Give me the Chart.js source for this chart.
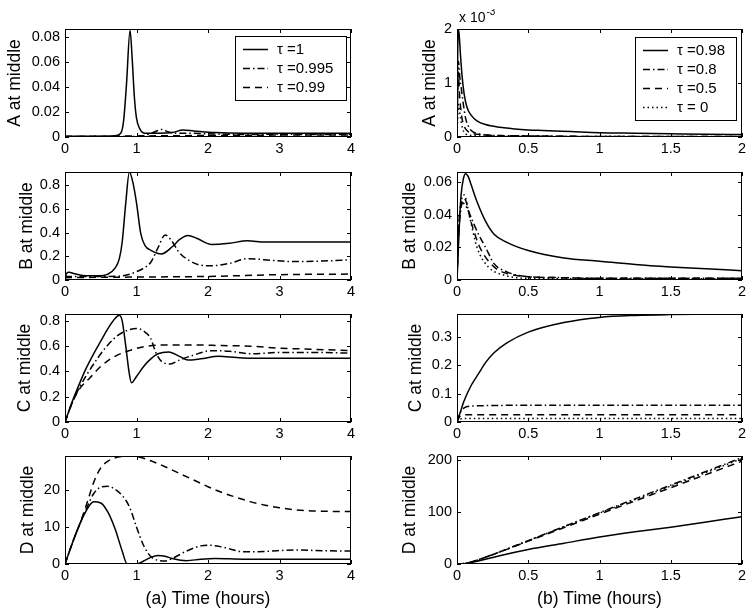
<!DOCTYPE html>
<html lang="en">
<head>
<meta charset="UTF-8">
<title>Concentrations at middle</title>
<script src="https://cdn.jsdelivr.net/npm/chart.js"></script>
<style>
  body { margin: 0; background: #fff; }
  #wrap { position: relative; width: 754px; height: 614px; overflow: hidden; }
  #wrap canvas { position: absolute; }
</style>
</head>
<body>
<div id="wrap"></div>
<script>
// ---- data ----
// legend labels
const labelsA = ['τ =1', 'τ =0.995', 'τ =0.99'];
const labelsB = ['τ =0.98', 'τ =0.8', 'τ =0.5', 'τ = 0'];

// tick labels
const xTicksA = [0, 1, 2, 3, 4];
const xTicksB = [0, 0.5, 1, 1.5, 2];
const yTicksAA = [0, 0.02, 0.04, 0.06, 0.08];
const yTicksAB = [0, 0.2, 0.4, 0.6, 0.8];
const yTicksAC = [0, 0.2, 0.4, 0.6, 0.8];
const yTicksAD = [0, 10, 20];
const yTicksBA = [0, 1, 2];
const yTicksBB = [0, 0.02, 0.04, 0.06];
const yTicksBC = [0, 0.1, 0.2, 0.3];
const yTicksBD = [0, 100, 200];

// (a) column, A at middle
const aA1t = [0, 0.5, 0.7, 0.78, 0.82, 0.86, 0.91, 0.94, 0.97, 1.0, 1.05, 1.12, 1.3, 1.5, 1.65, 1.8, 2.1, 2.5, 3, 3.5, 4];
const aA1y = [0.0005, 0.0005, 0.001, 0.003, 0.013, 0.042, 0.085, 0.062, 0.032, 0.015, 0.006, 0.003, 0.003, 0.0035, 0.0055, 0.0048, 0.0035, 0.003, 0.003, 0.003, 0.003];
const aA2t = [0, 0.9, 1.1, 1.25, 1.35, 1.45, 1.55, 1.7, 2, 2.5, 3, 3.5, 4];
const aA2y = [0.0003, 0.0004, 0.001, 0.004, 0.006, 0.004, 0.003, 0.003, 0.0025, 0.002, 0.0022, 0.002, 0.002];
const aA3t = [0, 1, 2, 3, 4];
const aA3y = [0.0003, 0.0008, 0.0012, 0.0015, 0.0015];

// (a) column, B at middle
const aB1t = [0, 0.02, 0.06, 0.12, 0.25, 0.45, 0.6, 0.7, 0.76, 0.8, 0.85, 0.9, 0.95, 1.0, 1.06, 1.12, 1.2, 1.35, 1.5, 1.6, 1.72, 1.85, 2.05, 2.3, 2.55, 2.8, 3.2, 4];
const aB1y = [0.01, 0.055, 0.065, 0.055, 0.038, 0.035, 0.05, 0.1, 0.18, 0.32, 0.65, 0.91, 0.82, 0.65, 0.39, 0.29, 0.25, 0.22, 0.28, 0.34, 0.376, 0.35, 0.3, 0.31, 0.33, 0.32, 0.32, 0.32];
const aB2t = [0, 0.3, 0.6, 0.85, 1.0, 1.1, 1.2, 1.3, 1.4, 1.48, 1.6, 1.75, 1.9, 2.05, 2.3, 2.55, 2.9, 3.2, 3.6, 4];
const aB2y = [0.03, 0.03, 0.03, 0.04, 0.07, 0.1, 0.15, 0.27, 0.38, 0.34, 0.23, 0.16, 0.125, 0.12, 0.14, 0.18, 0.165, 0.155, 0.16, 0.17];
const aB3t = [0, 1, 2, 3, 4];
const aB3y = [0.02, 0.025, 0.03, 0.045, 0.05];

// (a) column, C at middle
const aC1t = [0, 0.1, 0.2, 0.3, 0.4, 0.5, 0.6, 0.7, 0.76, 0.8, 0.85, 0.9, 0.93, 1.0, 1.1, 1.2, 1.3, 1.45, 1.6, 1.72, 1.9, 2.15, 2.4, 2.6, 3, 3.5, 4];
const aC1y = [0, 0.16, 0.3, 0.43, 0.54, 0.64, 0.74, 0.82, 0.845, 0.8, 0.6, 0.38, 0.31, 0.36, 0.44, 0.5, 0.54, 0.555, 0.52, 0.49, 0.5, 0.52, 0.51, 0.505, 0.505, 0.505, 0.505];
const aC2t = [0, 0.1, 0.2, 0.3, 0.45, 0.6, 0.75, 0.9, 1.0, 1.1, 1.2, 1.27, 1.35, 1.47, 1.6, 1.8, 2.05, 2.3, 2.6, 3.0, 3.5, 4];
const aC2y = [0, 0.15, 0.27, 0.37, 0.5, 0.61, 0.69, 0.73, 0.74, 0.72, 0.66, 0.55, 0.48, 0.46, 0.49, 0.53, 0.565, 0.56, 0.54, 0.55, 0.55, 0.545];
const aC3t = [0, 0.1, 0.2, 0.35, 0.5, 0.7, 0.9, 1.1, 1.4, 1.8, 2.2, 2.6, 3.0, 3.5, 4];
const aC3y = [0, 0.15, 0.26, 0.35, 0.44, 0.52, 0.565, 0.595, 0.61, 0.61, 0.605, 0.6, 0.585, 0.575, 0.565];

// (a) column, D at middle
const aD1t = [0, 0.1, 0.2, 0.3, 0.4, 0.5, 0.6, 0.7, 0.8, 0.87, 0.95, 1.0, 1.1, 1.2, 1.3, 1.4, 1.5, 1.7, 1.9, 2.1, 2.5, 3, 4];
const aD1y = [0, 5.5, 10.5, 14.5, 16.8, 16.5, 14, 9.5, 3.5, 0, 0, 0, 0.8, 1.8, 2.3, 2.1, 1.5, 0.9, 1.3, 1.5, 1.3, 1.3, 1.3];
const aD2t = [0, 0.1, 0.2, 0.3, 0.4, 0.5, 0.6, 0.7, 0.8, 0.9, 1.0, 1.1, 1.2, 1.3, 1.4, 1.5, 1.7, 1.9, 2.0, 2.2, 2.5, 2.8, 3.2, 3.6, 4];
const aD2y = [0, 5.5, 10.5, 15, 19, 20.8, 21, 20.2, 18.5, 15.5, 10, 5, 2, 1, 0.8, 1.5, 3.5, 4.9, 5.1, 4.6, 3.3, 3.4, 3.8, 3.6, 3.5];
const aD3t = [0, 0.1, 0.2, 0.3, 0.4, 0.5, 0.6, 0.7, 0.8, 0.9, 1.0, 1.1, 1.2, 1.4, 1.6, 1.8, 2.0, 2.2, 2.4, 2.6, 2.8, 3.0, 3.2, 3.5, 4];
const aD3y = [0, 5.5, 10.5, 16, 22, 26, 27.8, 28.7, 29.1, 29.2, 29, 28.6, 27.9, 26.3, 24.5, 22.7, 20.9, 19.3, 18, 16.8, 15.9, 15.2, 14.7, 14.3, 14.2];

// (b) column, A at middle (units of 1e-3)
const bA1t = [0, 0.008, 0.015, 0.025, 0.035, 0.05, 0.07, 0.1, 0.14, 0.2, 0.3, 0.45, 0.6, 0.8, 1, 1.25, 1.5, 1.75, 2];
const bA1y = [0, 2.0, 1.9, 1.5, 1.15, 0.8, 0.55, 0.4, 0.3, 0.23, 0.18, 0.14, 0.12, 0.1, 0.08, 0.07, 0.06, 0.05, 0.045];
const bA2t = [0, 0.01, 0.02, 0.03, 0.045, 0.06, 0.08, 0.1, 0.15, 0.25, 0.5, 1, 2];
const bA2y = [0, 1.4, 1.1, 0.9, 0.6, 0.35, 0.2, 0.12, 0.06, 0.03, 0.02, 0.01, 0.01];
const bA3t = [0, 0.008, 0.02, 0.035, 0.05, 0.07, 0.1, 0.15, 0.25, 0.5, 1, 2];
const bA3y = [0, 1.2, 0.7, 0.35, 0.2, 0.12, 0.07, 0.05, 0.03, 0.02, 0.01, 0.01];
const bA4t = [0, 0.01, 0.025, 0.04, 0.06, 0.1, 0.2, 0.5, 2];
const bA4y = [0, 0.6, 0.35, 0.15, 0.06, 0.03, 0.015, 0.01, 0.005];

// (b) column, B at middle
const bB1t = [0, 0.01, 0.02, 0.03, 0.045, 0.06, 0.08, 0.1, 0.14, 0.2, 0.26, 0.35, 0.5, 0.75, 1, 1.25, 1.5, 1.75, 2];
const bB1y = [0, 0.02, 0.04, 0.053, 0.062, 0.065, 0.063, 0.058, 0.048, 0.036, 0.028, 0.023, 0.018, 0.0135, 0.0115, 0.0095, 0.008, 0.0068, 0.0057];
const bB2t = [0, 0.01, 0.025, 0.04, 0.07, 0.1, 0.15, 0.2, 0.26, 0.35, 0.5, 0.7, 1, 1.5, 2];
const bB2y = [0, 0.025, 0.042, 0.047, 0.044, 0.038, 0.028, 0.02, 0.01, 0.005, 0.002, 0.0015, 0.001, 0.001, 0.001];
const bB3t = [0, 0.01, 0.03, 0.05, 0.1, 0.16, 0.26, 0.35, 0.5, 0.7, 1, 1.5, 2];
const bB3y = [0, 0.03, 0.046, 0.05, 0.035, 0.02, 0.008, 0.004, 0.002, 0.0015, 0.001, 0.001, 0.001];
const bB4t = [0, 0.01, 0.03, 0.05, 0.09, 0.14, 0.22, 0.33, 0.5, 1, 2];
const bB4y = [0, 0.03, 0.048, 0.052, 0.038, 0.02, 0.008, 0.003, 0.001, 0.0008, 0.0008];

// (b) column, C at middle
const bC1t = [0, 0.01, 0.02, 0.05, 0.1, 0.15, 0.2, 0.26, 0.35, 0.5, 0.75, 1, 1.25, 1.5, 2];
const bC1y = [0, 0.015, 0.03, 0.075, 0.13, 0.17, 0.21, 0.245, 0.28, 0.318, 0.352, 0.37, 0.377, 0.38, 0.383];
const bC2t = [0, 0.02, 0.05, 0.1, 0.2, 0.5, 1, 2];
const bC2y = [0, 0.03, 0.05, 0.056, 0.058, 0.059, 0.059, 0.059];
const bC3t = [0, 0.02, 0.05, 0.1, 0.5, 2];
const bC3y = [0, 0.02, 0.025, 0.026, 0.026, 0.026];
const bC4t = [0, 0.02, 0.05, 0.5, 2];
const bC4y = [0, 0.01, 0.012, 0.012, 0.012];

// (b) column, D at middle
const bD1t = [0, 0.05, 0.1, 0.2, 0.3, 0.5, 0.75, 1, 1.25, 1.5, 1.75, 2];
const bD1y = [0, 0.5, 3, 9, 16, 28, 40, 52, 62, 71, 81, 91];
const bDt = [0, 0.05, 0.1, 0.2, 0.5, 1, 1.5, 2];
const bD2y = [0, 1, 4, 13, 45, 99, 152, 205];
const bD3y = [0, 1, 4, 13, 44, 96, 147, 198];
const bD4y = [0, 1, 4, 13, 45, 98, 150, 203];

// ---- styles / layout ----
const dashes = { solid: [], dashdot: [7, 3, 1.5, 3], dashed: [7, 5], dotted: [1.5, 3] };
const stylesA = ['solid', 'dashdot', 'dashed'];
const stylesB = ['solid', 'dashdot', 'dashed', 'dotted'];
const rowTops = [29, 172, 314, 456];
const plotH = 108;
const tickFont = { family: 'Liberation Sans, Arial, sans-serif', size: 14.5 };
const titleFont = { family: 'Liberation Sans, Arial, sans-serif', size: 17.5 };

function series(ts, ys, labels, styles) {
  return ys.map((y, i) => ({ t: ts[i], y: y, label: labels[i], style: styles[i] }));
}

// titleX = where the rotated y label is centred (MATLAB shifts it with tick width)
const panels = [
  { col: 0, row: 0, yTitle: 'A at middle', titleX: 15, yMax: 0.086, yTicks: yTicksAA, xMax: 4, xTicks: xTicksA,
    series: series([aA1t, aA2t, aA3t], [aA1y, aA2y, aA3y], labelsA, stylesA),
    legend: { w: 111, inset: 5, top: 7 } },
  { col: 0, row: 1, yTitle: 'B at middle', titleX: 27, yMax: 0.91, yTicks: yTicksAB, xMax: 4, xTicks: xTicksA,
    series: series([aB1t, aB2t, aB3t], [aB1y, aB2y, aB3y], labelsA, stylesA) },
  { col: 0, row: 2, yTitle: 'C at middle', titleX: 25, yMax: 0.855, yTicks: yTicksAC, xMax: 4, xTicks: xTicksA,
    series: series([aC1t, aC2t, aC3t], [aC1y, aC2y, aC3y], labelsA, stylesA) },
  { col: 0, row: 3, yTitle: 'D at middle', titleX: 28, yMax: 29.2, yTicks: yTicksAD, xMax: 4, xTicks: xTicksA,
    series: series([aD1t, aD2t, aD3t], [aD1y, aD2y, aD3y], labelsA, stylesA),
    xTitle: '(a) Time (hours)' },
  { col: 1, row: 0, yTitle: 'A at middle', titleX: 53, yMax: 2, yTicks: yTicksBA, xMax: 2, xTicks: xTicksB,
    series: series([bA1t, bA2t, bA3t, bA4t], [bA1y, bA2y, bA3y, bA4y], labelsB, stylesB),
    legend: { w: 101, inset: 6, top: 8 }, exponent: true },
  { col: 1, row: 1, yTitle: 'B at middle', titleX: 33, yMax: 0.066, yTicks: yTicksBB, xMax: 2, xTicks: xTicksB,
    series: series([bB1t, bB2t, bB3t, bB4t], [bB1y, bB2y, bB3y, bB4y], labelsB, stylesB) },
  { col: 1, row: 2, yTitle: 'C at middle', titleX: 39, yMax: 0.382, yTicks: yTicksBC, xMax: 2, xTicks: xTicksB,
    series: series([bC1t, bC2t, bC3t, bC4t], [bC1y, bC2y, bC3y, bC4y], labelsB, stylesB) },
  { col: 1, row: 3, yTitle: 'D at middle', titleX: 33, yMax: 208, yTicks: yTicksBD, xMax: 2, xTicks: xTicksB,
    series: series([bD1t, bDt, bDt, bDt], [bD1y, bD2y, bD3y, bD4y], labelsB, stylesB),
    xTitle: '(b) Time (hours)' }
];

const fmt = v => String(parseFloat(Number(v).toFixed(6)));

// frame with inward ticks, legend box and exponent label (MATLAB look)
function boxPlugin(p) {
  return {
    id: 'box',
    afterDatasetsDraw(chart) {
      const { ctx, chartArea: a } = chart;
      const x = chart.scales.x, y = chart.scales.y;
      ctx.save();
      ctx.strokeStyle = '#000';
      ctx.lineWidth = 1;
      ctx.setLineDash([]);
      ctx.strokeRect(a.left + 0.5, a.top + 0.5, a.right - a.left - 1, a.bottom - a.top - 1);
      ctx.beginPath();
      x.ticks.forEach(t => {
        const px = Math.round(x.getPixelForValue(t.value)) + 0.5;
        ctx.moveTo(px, a.bottom); ctx.lineTo(px, a.bottom - 4);
        ctx.moveTo(px, a.top); ctx.lineTo(px, a.top + 4);
      });
      y.ticks.forEach(t => {
        const py = Math.round(y.getPixelForValue(t.value)) + 0.5;
        ctx.moveTo(a.left, py); ctx.lineTo(a.left + 4, py);
        ctx.moveTo(a.right, py); ctx.lineTo(a.right - 4, py);
      });
      ctx.stroke();

      if (p.legend) {
        const ds = chart.data.datasets;
        const bx = a.right - p.legend.inset - p.legend.w;
        const by = a.top + p.legend.top;
        const bh = 25 + (ds.length - 1) * 19.3;
        ctx.fillStyle = '#fff';
        ctx.fillRect(bx, by, p.legend.w, bh);
        ctx.strokeRect(Math.round(bx) + 0.5, Math.round(by) + 0.5, p.legend.w, Math.round(bh));
        ctx.font = '15px Liberation Sans, Arial, sans-serif';
        ctx.fillStyle = '#000';
        ctx.textBaseline = 'middle';
        ds.forEach((d, i) => {
          const ry = Math.round(by + 12.5 + i * 19.3) + 0.5;
          ctx.beginPath();
          ctx.lineWidth = 1.5;
          ctx.setLineDash(d.borderDash);
          ctx.moveTo(bx + 8, ry); ctx.lineTo(bx + 33, ry);
          ctx.stroke();
          ctx.setLineDash([]);
          ctx.fillText(d.label, bx + 42, ry);
        });
      }

      if (p.exponent) {
        ctx.fillStyle = '#000';
        ctx.textBaseline = 'alphabetic';
        ctx.font = '14px Liberation Sans, Arial, sans-serif';
        const base = 'x 10';
        ctx.fillText(base, a.left + 2, a.top - 7);
        const w = ctx.measureText(base).width;
        ctx.font = '10px Liberation Sans, Arial, sans-serif';
        ctx.fillText('-3', a.left + 3 + w, a.top - 14);
      }
      ctx.restore();
    }
  };
}

const wrap = document.getElementById('wrap');

panels.forEach(p => {
  const cv = document.createElement('canvas');
  const W = p.col === 0 ? 365 : 377;
  const xh = p.xTitle ? 50 : 25;
  const H = 20 + plotH + xh;
  cv.width = W;
  cv.height = H;
  cv.style.left = (p.col === 0 ? 0 : 377) + 'px';
  cv.style.top = (rowTops[p.row] - 20) + 'px';
  wrap.appendChild(cv);
  const areaLeft = p.col === 0 ? 65 : 80;
  const padLeft = Math.max(0, p.titleX - 14.5);
  const yw = areaLeft - padLeft;

  new Chart(cv, {
    type: 'line',
    data: {
      datasets: p.series.map(s => ({
        label: s.label,
        data: s.t.map((t, i) => ({ x: t, y: s.y[i] })),
        borderColor: '#000',
        borderWidth: 1.5,
        borderDash: dashes[s.style],
        pointRadius: 0,
        cubicInterpolationMode: 'monotone',
        fill: false
      }))
    },
    options: {
      responsive: false,
      animation: false,
      devicePixelRatio: 1,
      layout: { padding: { top: 20, left: padLeft, right: p.col === 0 ? 14 : 12, bottom: 0 } },
      plugins: { legend: { display: false }, tooltip: { enabled: false } },
      scales: {
        x: {
          type: 'linear', min: 0, max: p.xMax,
          grid: { display: false, drawTicks: false },
          border: { display: false },
          afterBuildTicks: s => { s.ticks = p.xTicks.map(v => ({ value: v })); },
          ticks: { maxRotation: 0, autoSkip: false, padding: 3, color: '#000', font: tickFont, callback: fmt },
          title: { display: !!p.xTitle, text: p.xTitle || '', color: '#000', font: titleFont, padding: { top: 0, bottom: 4 } },
          afterFit: s => { s.height = xh; }
        },
        y: {
          type: 'linear', min: 0, max: p.yMax,
          grid: { display: false, drawTicks: false },
          border: { display: false },
          afterBuildTicks: s => { s.ticks = p.yTicks.map(v => ({ value: v })); },
          ticks: { autoSkip: false, padding: 5, color: '#000', font: tickFont, callback: fmt },
          title: { display: true, text: p.yTitle, color: '#000', font: titleFont, padding: { top: 4, bottom: 0 } },
          afterFit: s => { s.width = yw; }
        }
      }
    },
    plugins: [boxPlugin(p)]
  });
});
</script>
</body>
</html>
